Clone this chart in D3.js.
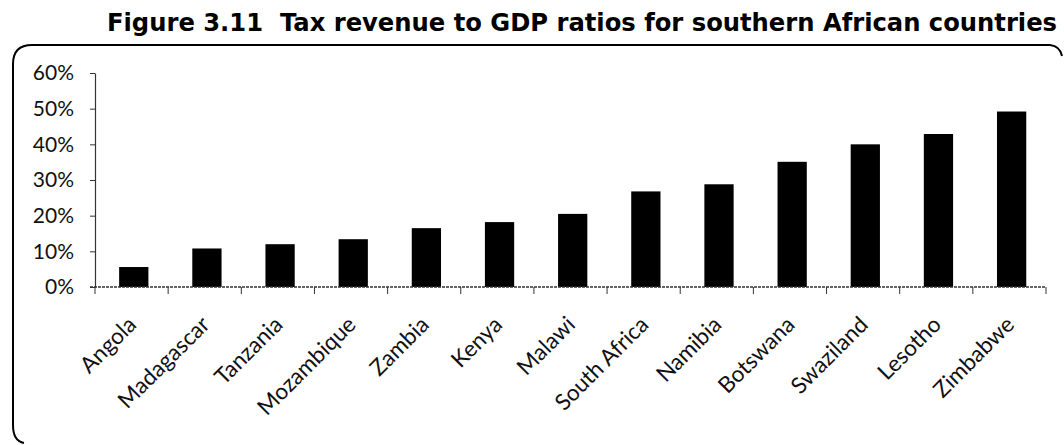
<!DOCTYPE html>
<html>
<head>
<meta charset="utf-8">
<script src="https://cdn.jsdelivr.net/npm/d3@7"></script>
<style>
  body { margin: 0; background: #fff; }
  svg { display: block; }
</style>
</head>
<body>
<svg id="chart"></svg>
<script>
// data
const countries = ["Angola", "Madagascar", "Tanzania", "Mozambique", "Zambia", "Kenya",
  "Malawi", "South Africa", "Namibia", "Botswana", "Swaziland", "Lesotho", "Zimbabwe"];
const taxRatio = [0.056, 0.108, 0.120, 0.134, 0.165, 0.182, 0.205, 0.268, 0.288, 0.351,
  0.400, 0.429, 0.492];
const yTicks = [0, 0.1, 0.2, 0.3, 0.4, 0.5, 0.6];
const title = "Figure 3.11  Tax revenue to GDP ratios for southern African countries";

const width = 1064, height = 445;
const margin = { top: 73, right: 18, bottom: 158, left: 95 };
const chartheight = height - margin.bottom;

const svg = d3.select("#chart").attr("width", width).attr("height", height);

// title
svg.append("text")
  .attr("x", 107)
  .attr("y", 31)
  .attr("textLength", 950)
  .attr("lengthAdjust", "spacingAndGlyphs")
  .style("font-family", "'DejaVu Sans', Verdana, sans-serif")
  .style("font-weight", "bold")
  .style("font-size", "24px")
  .style("white-space", "pre")
  .attr("fill", "#000")
  .text(title);

// frame (only top/left visible in the scan)
svg.append("path")
  .attr("d", "M24,443 Q13,441 13,425 L13,64 Q13,45 32,45 L1050,45 Q1060,46 1062,56")
  .attr("fill", "none")
  .attr("stroke", "#000")
  .attr("stroke-width", 2);

// x scale
const x = d3.scaleBand()
  .domain(countries)
  .range([margin.left, width - margin.right])
  .paddingInner(0.6)
  .paddingOuter(0.3)
  .align(0.55);

// y scale
const y = d3.scaleLinear().domain([0, 0.6]).range([chartheight, margin.top]);

// bars
svg.append("g")
  .selectAll("rect")
  .data(countries)
  .join("rect")
  .attr("x", (d) => x(d))
  .attr("y", (d, i) => y(taxRatio[i]))
  .attr("width", x.bandwidth())
  .attr("height", (d, i) => chartheight - y(taxRatio[i]))
  .attr("fill", "#000");

// y axis
const yAxis = svg.append("g")
  .attr("transform", "translate(" + margin.left + ",0)")
  .call(d3.axisLeft(y).tickValues(yTicks).tickFormat(d3.format(".0%")).tickSize(5).tickSizeOuter(0).tickPadding(16));
yAxis.select(".domain").attr("stroke", "#333").attr("stroke-width", 1.2);
yAxis.selectAll("line").attr("stroke", "#333");
yAxis.selectAll("text")
  .style("font-family", "Lato, 'Open Sans', sans-serif")
  .style("font-size", "21px")
  .attr("fill", "#111");

// x axis line and boundary ticks
const step = x.step();
const boundaries = d3.range(countries.length + 1).map((i) => margin.left + i * step);
svg.append("line")
  .attr("x1", margin.left - 5)
  .attr("x2", width - margin.right)
  .attr("y1", chartheight)
  .attr("y2", chartheight)
  .attr("stroke", "#333")
  .attr("stroke-width", 1.5)
  .attr("stroke-dasharray", "3,1");
svg.append("g")
  .selectAll("line")
  .data(boundaries)
  .join("line")
  .attr("x1", (d) => d)
  .attr("x2", (d) => d)
  .attr("y1", chartheight)
  .attr("y2", chartheight + 7)
  .attr("stroke", "#333");

// rotated category labels
svg.append("g")
  .selectAll("text")
  .data(countries)
  .join("text")
  .attr("transform", (d) =>
    "translate(" + (x(d) + x.bandwidth() / 2 + 4) + "," + (chartheight + 39) + ") rotate(-45)")
  .attr("text-anchor", "end")
  .style("font-family", "Lato, 'Open Sans', sans-serif")
  .style("font-size", "22.5px")
  .attr("fill", "#111")
  .text((d) => d);
</script>
</body>
</html>
